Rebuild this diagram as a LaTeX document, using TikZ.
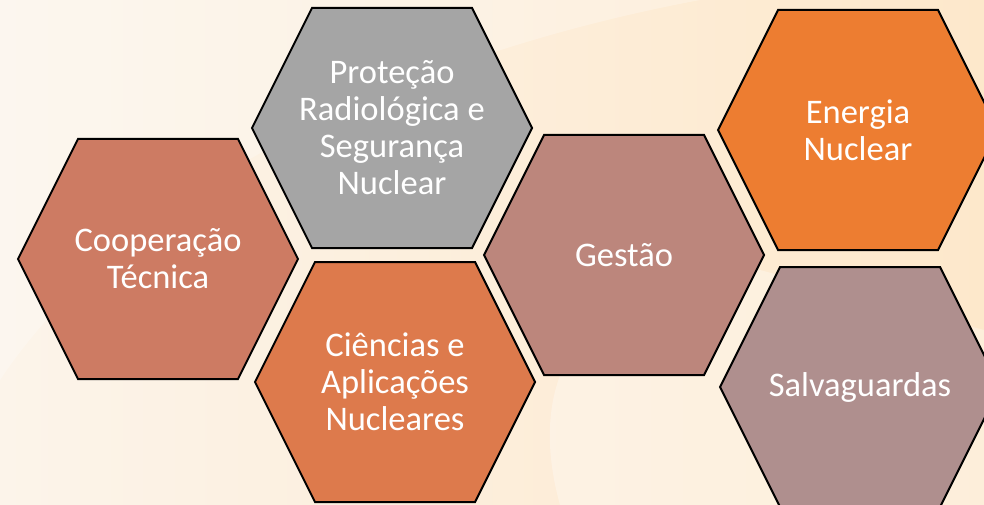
\documentclass[tikz,border=0pt]{standalone}
\usepackage{fontspec}
\setmainfont{Carlito}
\usepackage{tikz}
\usetikzlibrary{calc}

\definecolor{coopfill}{HTML}{CD7B63}
\definecolor{protfill}{HTML}{A5A5A5}
\definecolor{cienfill}{HTML}{DD7A4C}
\definecolor{gestfill}{HTML}{BC867C}
\definecolor{enerfill}{HTML}{ED7D31}
\definecolor{salvfill}{HTML}{AF8F8E}
\definecolor{bgleft}{HTML}{FCF4EA}
\definecolor{bgright}{HTML}{FDE8CB}

% outline of one hexagon around a named centre
\newcommand{\hexat}[2]{%
	\draw[hexline, fill=#2] ($(#1)+(-140,0)$) -- ++(60,-120) -- ++(160,0) -- ++(60,120)
		-- ++(-60,120) -- ++(-160,0) -- cycle;}

\begin{document}
\begin{tikzpicture}[x=1pt, y=-1pt,
	hexline/.style={draw=black, line width=2pt, line join=miter},
	hextext/.style={align=center, text=white, font=\fontsize{34.5}{37}\selectfont}]
	\useasboundingbox (0,0) rectangle (984,505);
	\clip (0,0) rectangle (984,505);
	\shade[left color=bgleft, right color=bgright] (0,0) rectangle (984,505);
	\fill[white, opacity=0.25] (0,0) -- (0,380) .. controls (120,200) and (380,60) .. (700,0) -- cycle;
	\fill[white, opacity=0.3] (560,505) .. controls (520,360) and (600,270) .. (760,270) -- (984,330) -- (984,505) -- cycle;

	\coordinate (c1) at (158,259);
	\coordinate (c2) at (392,128);
	\coordinate (c3) at (395,382);
	\coordinate (c4) at (624,255);
	\coordinate (c5) at (858,130);
	\coordinate (c6) at (860,387);

	\hexat{c1}{coopfill}
	\hexat{c2}{protfill}
	\hexat{c3}{cienfill}
	\hexat{c4}{gestfill}
	\hexat{c5}{enerfill}
	\hexat{c6}{salvfill}

	\node[hextext] (coop) at (c1) {Cooperação\\Técnica};
	\node[hextext] (prot) at (c2) {Proteção\\Radiológica e\\Segurança\\Nuclear};
	\node[hextext] (cien) at (c3) {Ciências e\\Aplicações\\Nucleares};
	\node[hextext] (gest) at (c4) {Gestão};
	\node[hextext] (ener) at (c5) {Energia\\Nuclear};
	\node[hextext] (salv) at (c6) {Salvaguardas};
\end{tikzpicture}
\end{document}
